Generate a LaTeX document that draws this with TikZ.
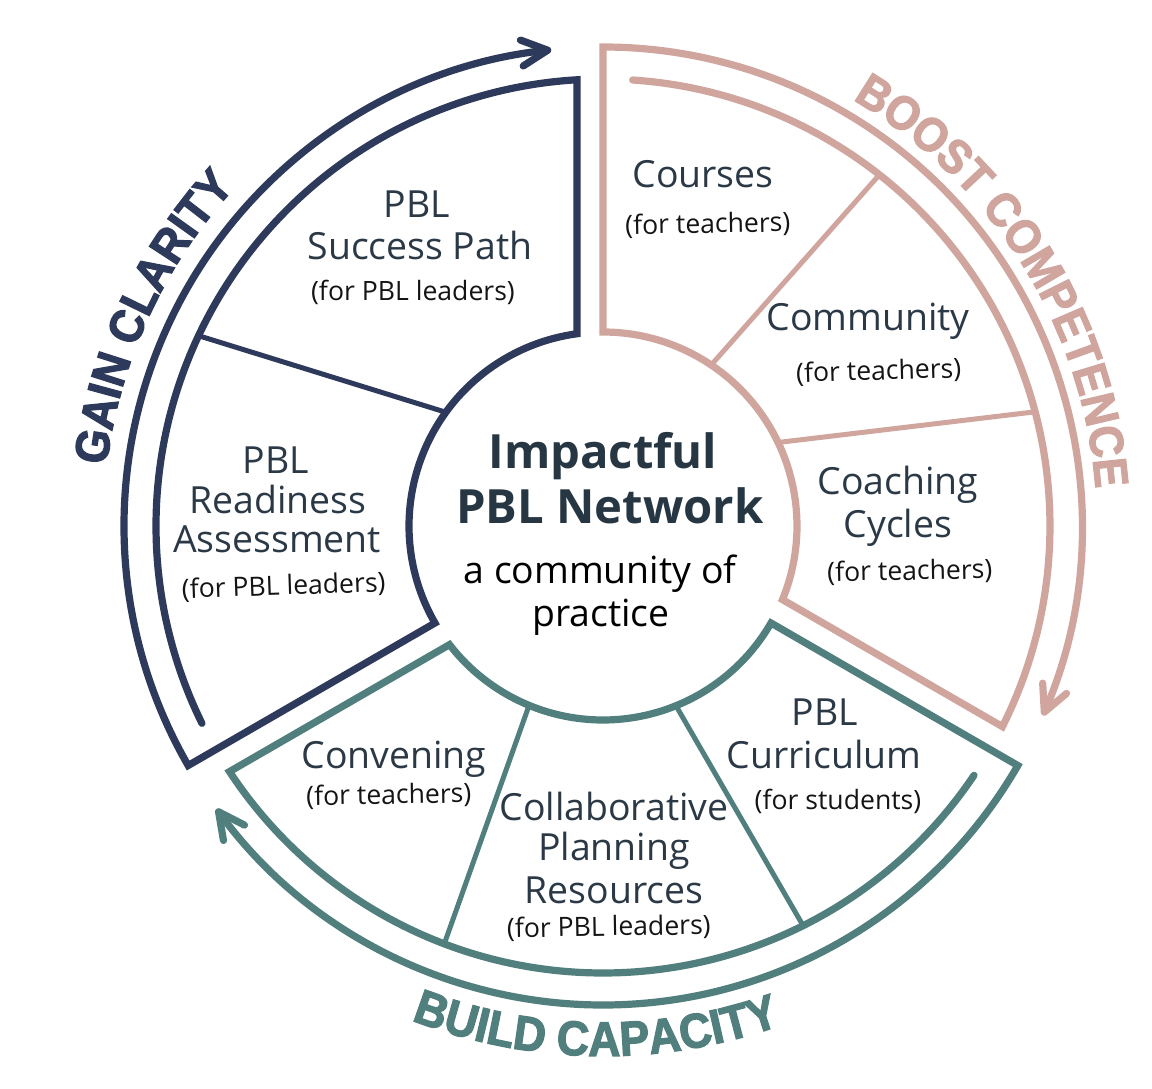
\documentclass[tikz,border=0pt]{standalone}
\usepackage{fontspec}
\setmainfont{Open Sans}
\newfontfamily\arcfont{Liberation Sans}[UprightFont={* Bold}, FakeStretch=0.92, FakeBold=2.5]
\usetikzlibrary{arrows.meta,decorations.text}
\definecolor{navy}{HTML}{2E3A5C}
\definecolor{pinkc}{HTML}{CFA59E}
\definecolor{tealc}{HTML}{507F7D}
\definecolor{labelc}{HTML}{2B3946}
\definecolor{titlec}{HTML}{263743}
\begin{document}
\begin{tikzpicture}[x=0.5pt,y=0.5pt,
  ring/.style={line width=3.6pt, line join=miter, line cap=round,
    -{Straight Barb[length=13pt,width=13pt,round]}},
  divider/.style={line width=2.5pt},
  lab/.style={anchor=base, font=\fontsize{18.7pt}{18.7pt}\selectfont, text=labelc, inner sep=0pt},
  sub/.style={anchor=base, font=\fontsize{13.3pt}{13.3pt}\selectfont, text=black!92, inner sep=0pt},
  ttl/.style={anchor=base, font=\fontsize{23.6pt}{23.6pt}\selectfont\bfseries, text=titlec, inner sep=0pt},
  ctr/.style={anchor=base, font=\fontsize{18.7pt}{18.7pt}\selectfont, text=black, inner sep=0pt}
]
\useasboundingbox (-603,-562) rectangle (549,526);

% ---------- sectors with their arrow arcs ----------
\draw[ring, navy] (206.2:223.5pt) arc[start angle=206.2, end angle=93.33, radius=223.5pt]
  -- (97.7:97pt) arc[start angle=97.7, end angle=210, radius=97pt]
  -- (210:239.5pt) arc[start angle=210, end angle=96.2, radius=239.5pt];
\draw[ring, pinkc] (86.2:223.5pt) arc[start angle=86.2, end angle=-26.67, radius=223.5pt]
  -- (-22.3:97pt) arc[start angle=-22.3, end angle=90, radius=97pt]
  -- (90:239.5pt) arc[start angle=90, end angle=-23.3, radius=239.5pt];
\draw[ring, tealc] (326.1:223.5pt) arc[start angle=326.1, end angle=213.33, radius=223.5pt]
  -- (217.7:97pt) arc[start angle=217.7, end angle=330, radius=97pt]
  -- (330:239.5pt) arc[start angle=330, end angle=216.2, radius=239.5pt];

% ---------- dividers ----------
\coordinate (n1a) at (144.1:97pt);  \coordinate (n1b) at (154.8:223.5pt);
\coordinate (p1a) at (56.1:97pt);   \coordinate (p1b) at (51.8:223.5pt);
\coordinate (p2a) at (25.5:97pt);   \coordinate (p2b) at (14.8:223.5pt);
\coordinate (t1a) at (247.6:97pt);  \coordinate (t1b) at (249.2:223.5pt);
\coordinate (t2a) at (292.1:97pt);  \coordinate (t2b) at (296.6:223.5pt);
\draw[divider, navy] (n1a) -- (n1b);
\draw[divider, pinkc] (p1a) -- (p1b);
\draw[divider, pinkc] (p2a) -- (p2b);
\draw[divider, tealc] (t1a) -- (t1b);
\draw[divider, tealc] (t2a) -- (t2b);

% ---------- curved headings ----------
\path[decorate, decoration={text along path, text align=center,
  text={|\arcfont\fontsize{23.8pt}{23.8pt}\selectfont\color{navy}|GAIN CLARITY}}]
  (190.2:250pt) arc[start angle=190.2, end angle=120.2, radius=250pt];
\path[decorate, decoration={text along path, text align=center,
  text={|\arcfont\fontsize{23.8pt}{23.8pt}\selectfont\color{pinkc}|BOOST COMPETENCE}}]
  (72:247pt) arc[start angle=72, end angle=-8, radius=247pt];
\path[decorate, decoration={text along path, text align=center,
  text={|\arcfont\fontsize{24.3pt}{24.3pt}\selectfont\color{tealc}|BUILD CAPACITY}}]
  (234.2:265pt) arc[start angle=234.2, end angle=304.2, radius=265pt];

% ---------- centre ----------
\node[ttl] (c1) at (0,58) {Impactful};
\node[ttl] (c2) at (7,3) {PBL Network};
\node[ctr] (c3) at (-3,-57) {a community of};
\node[ctr] (c4) at (-2,-100) {practice};

% ---------- navy labels ----------
\node[lab] (sp1) at (-186,308) {PBL};
\node[lab] (sp2) at (-183,266) {Success Path};
\node[sub] (sp3) at (-190,225) {(for PBL leaders)};
\node[lab] (ra1) at (-327,53) {PBL};
\node[lab] (ra2) at (-325,13) {Readiness};
\node[lab] (ra3) at (-326,-26) {Assessment};
\node[sub, rotate=2] (ra4) at (-319,-69) {(for PBL leaders)};

% ---------- pink labels ----------
\node[lab] (co1) at (100,338) {Courses};
\node[sub, rotate=1] (co2) at (105,293) {(for teachers)};
\node[lab] (cm1) at (265,195) {Community};
\node[sub, rotate=1.7] (cm2) at (276,146) {(for teachers)};
\node[lab] (cc1) at (295,32) {Coaching};
\node[lab] (cc2) at (295,-11) {Cycles};
\node[sub, rotate=1] (cc3) at (307,-54) {(for teachers)};

% ---------- teal labels ----------
\node[lab] (cv1) at (-209,-242) {Convening};
\node[sub, rotate=1] (cv2) at (-214,-278) {(for teachers)};
\node[lab] (cp1) at (11,-294) {Collaborative};
\node[lab] (cp2) at (11,-334) {Planning};
\node[lab] (cp3) at (11,-377) {Resources};
\node[sub, rotate=1] (cp4) at (6,-410) {(for PBL leaders)};
\node[lab] (cu1) at (222,-199) {PBL};
\node[lab] (cu2) at (221,-242) {Curriculum};
\node[sub] (cu3) at (235,-283) {(for students)};
\end{tikzpicture}
\end{document}
